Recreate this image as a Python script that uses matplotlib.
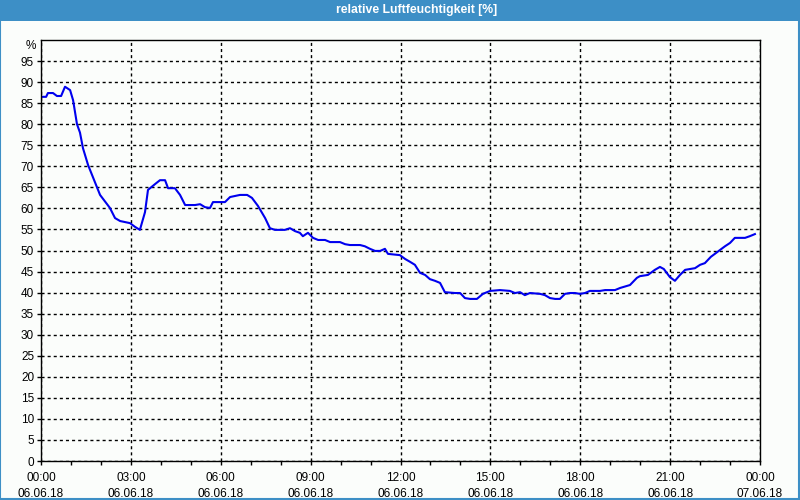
import matplotlib
matplotlib.use("Agg")
import matplotlib.pyplot as plt
from matplotlib.patches import Rectangle
from matplotlib.ticker import MultipleLocator

# hours since 06.06.18 00:00 and relative humidity [%]
hours = [0.0, 0.17, 0.23, 0.40, 0.53, 0.67, 0.80, 0.97, 1.07, 1.20, 1.30, 1.40, 1.57,
         1.97, 2.30, 2.47, 2.64, 2.97, 3.14, 3.30, 3.47, 3.57, 3.81, 3.97, 4.14, 4.24,
         4.47, 4.64, 4.81, 5.14, 5.31, 5.47, 5.64, 5.74, 6.14, 6.31, 6.64, 6.88, 7.04,
         7.24, 7.48, 7.64, 7.81, 8.14, 8.31, 8.48, 8.64, 8.74, 8.91, 9.08, 9.25, 9.48,
         9.65, 9.98, 10.15, 10.31, 10.65, 10.81, 10.98, 11.15, 11.32, 11.48, 11.58,
         11.98, 12.15, 12.32, 12.48, 12.65, 12.82, 12.98, 13.15, 13.32, 13.48, 13.82,
         13.99, 14.15, 14.32, 14.55, 14.75, 14.99, 15.32, 15.65, 15.82, 15.99, 16.15,
         16.32, 16.66, 16.82, 16.99, 17.16, 17.32, 17.49, 17.66, 17.82, 17.99, 18.16,
         18.32, 18.66, 18.83, 19.16, 19.33, 19.66, 19.89, 19.99, 20.26, 20.49, 20.66,
         20.79, 20.99, 21.16, 21.33, 21.50, 21.66, 21.83, 22.00, 22.16, 22.36, 22.53,
         22.66, 22.83, 23.00, 23.16, 23.50, 23.66, 23.83]
humidity = [86.5, 86.5, 87.4, 87.4, 86.7, 86.7, 88.9, 88.1, 85.7, 80.0, 78.0, 74.3, 70.3,
            63.2, 60.1, 57.7, 57.0, 56.5, 55.6, 54.9, 59.1, 64.4, 65.8, 66.7, 66.7, 64.8,
            64.8, 63.2, 60.8, 60.8, 61.0, 60.3, 60.1, 61.5, 61.5, 62.7, 63.2, 63.2, 62.5,
            60.6, 57.7, 55.3, 54.9, 54.9, 55.3, 54.6, 54.2, 53.4, 54.2, 53.0, 52.5, 52.5,
            52.0, 52.0, 51.5, 51.3, 51.3, 51.0, 50.4, 49.9, 49.9, 50.4, 49.2,
            48.9, 48.0, 47.3, 46.6, 44.7, 44.2, 43.2, 42.8, 42.3, 40.1, 39.9,
            39.9, 38.7, 38.5, 38.5, 39.7, 40.4, 40.6, 40.4, 39.9, 40.1, 39.4,
            39.9, 39.7, 39.4, 38.7, 38.5, 38.5, 39.7, 39.9, 39.9, 39.7, 39.9,
            40.4, 40.4, 40.6, 40.6, 41.1, 41.8, 43.5, 43.9, 44.2, 45.4, 46.1,
            45.6, 43.7, 42.8, 44.2, 45.4, 45.6, 45.8, 46.6, 47.0, 48.5, 49.4,
            50.1, 51.0, 51.8, 53.0, 53.0, 53.4, 53.9]

tick_hours = [0, 3, 6, 9, 12, 15, 18, 21, 24]
tick_labels = ["00:00\n06.06.18", "03:00\n06.06.18", "06:00\n06.06.18", "09:00\n06.06.18",
               "12:00\n06.06.18", "15:00\n06.06.18", "18:00\n06.06.18", "21:00\n06.06.18",
               "00:00\n07.06.18"]

frame_blue = "#3d8fc6"
bg = "#fbfdfb"
plt.rcParams["font.family"] = ["Liberation Sans", "DejaVu Sans"]

fig = plt.figure(figsize=(8, 5), dpi=100, facecolor=bg)

# window frame and title bar
fig.add_artist(Rectangle((0, 0.958), 1, 0.042, transform=fig.transFigure,
                         facecolor=frame_blue, edgecolor="none"))
fig.add_artist(Rectangle((0.0006, 0.003), 0.9985, 0.96, transform=fig.transFigure,
                         facecolor="none", edgecolor=frame_blue, linewidth=1.5))
fig.text(0.521, 0.979, "relative Luftfeuchtigkeit [%]", color="white",
         ha="center", va="center", fontsize=8.8, fontweight="bold")

ax = fig.add_axes([0.0513, 0.078, 0.8987, 0.842])
ax.set_facecolor(bg)
ax.plot(hours, humidity, color="#0000ee", linewidth=1.5)

ax.set_xlim(0, 24)
ax.set_ylim(0, 100)
ax.set_xticks(tick_hours)
ax.set_xticklabels(tick_labels, fontsize=8.5, linespacing=1.45)
ax.xaxis.set_minor_locator(MultipleLocator(1))
ax.set_yticks(range(0, 100, 5))
ax.tick_params(axis="y", labelsize=8.5, length=3, width=1, pad=2)
ax.tick_params(axis="x", which="both", length=3, width=1, pad=5)

ax.grid(True, which="major", color="black", linestyle=(0, (2.2, 2.2)), linewidth=1)
for s in ax.spines.values():
    s.set_color("black")
    s.set_linewidth(1)

ax.text(-0.007, 98.5, "%", transform=ax.get_yaxis_transform(), ha="right",
        va="center", fontsize=8.5)

fig.savefig("out.png", dpi=100, facecolor=bg)
